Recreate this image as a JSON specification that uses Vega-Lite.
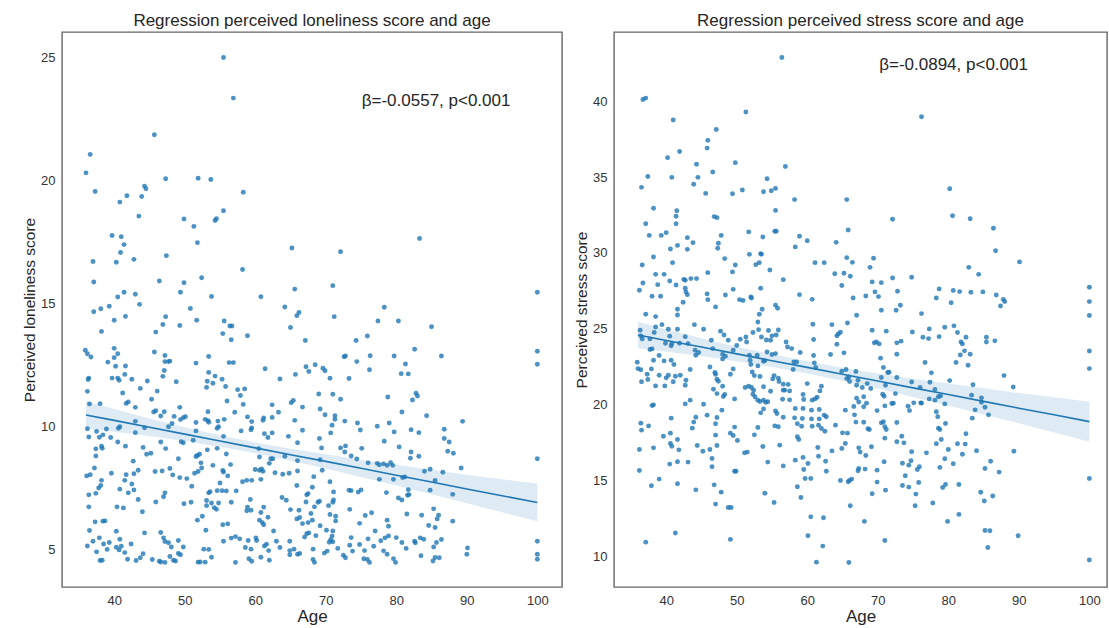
{
"$schema": "https://vega.github.io/schema/vega-lite/v6.json",
"background": "white",
"padding": {"left": 21, "top": 11, "right": 0, "bottom": 0},
"bounds": "flush",
"spacing": 52,
"config": {
  "font": "Liberation Sans",
  "view": {"stroke": "#666666", "strokeWidth": 1.4},
  "axis": {"grid": false, "ticks": false, "domain": false, "labelFontSize": 13, "labelColor": "#333333", "titleFontWeight": "normal", "titleColor": "#262626", "labelPadding": 7},
  "axisX": {"titleFontSize": 17, "titlePadding": 1},
  "axisY": {"titleFontSize": 15.5, "titlePadding": 3},
  "title": {"fontSize": 17, "fontWeight": "normal", "color": "#262626", "offset": 2, "anchor": "middle"}
},
"datasets": {
"lon": [
{"age":55.5,"score":25.0},{"age":56.9,"score":23.35},{"age":45.7,"score":21.86},{"age":36.6,"score":21.06},{"age":36.0,"score":20.31},{"age":37.3,"score":19.55},{"age":44.3,"score":19.77},{"age":44.5,"score":19.66},{"age":41.8,"score":19.38},{"age":40.8,"score":19.12},{"age":43.9,"score":19.35},{"age":47.3,"score":20.07},{"age":51.9,"score":20.09},{"age":53.7,"score":20.04},{"age":58.3,"score":19.52},{"age":43.5,"score":18.55},{"age":49.9,"score":18.43},{"age":51.3,"score":18.13},{"age":54.3,"score":18.37},{"age":54.5,"score":18.44},{"age":55.5,"score":18.77},{"age":39.7,"score":17.76},{"age":41.0,"score":17.71},{"age":41.4,"score":17.39},{"age":40.9,"score":17.07},{"age":37.0,"score":16.70},{"age":40.3,"score":16.67},{"age":42.8,"score":16.79},{"age":47.4,"score":16.94},{"age":51.8,"score":17.47},{"age":65.2,"score":17.25},{"age":37.1,"score":15.87},{"age":46.4,"score":15.91},{"age":49.9,"score":15.84},{"age":52.4,"score":16.04},{"age":58.2,"score":16.38},{"age":41.4,"score":15.45},{"age":43.0,"score":15.37},{"age":40.5,"score":15.26},{"age":49.4,"score":15.45},{"age":53.8,"score":15.28},{"age":60.8,"score":15.27},{"age":65.6,"score":15.58},
{"age":83.3,"score":17.64},{"age":72.1,"score":17.10},{"age":71.0,"score":15.72},{"age":100,"score":15.45},
{"age":37.1,"score":14.66},{"age":38.1,"score":14.78},{"age":39.3,"score":14.88},{"age":43.6,"score":14.96},{"age":40.0,"score":14.31},{"age":41.6,"score":14.47},{"age":38.2,"score":13.86},{"age":47.3,"score":14.46},{"age":46.9,"score":14.14},{"age":45.9,"score":13.83},{"age":50.8,"score":14.79},{"age":51.7,"score":14.31},{"age":49.3,"score":14.10},{"age":55.6,"score":14.28},{"age":56.4,"score":14.08},{"age":56.7,"score":14.08},{"age":55.4,"score":13.77},{"age":56.6,"score":13.52},{"age":58.9,"score":13.68},{"age":64.2,"score":14.85},{"age":66.2,"score":14.63},{"age":65.9,"score":14.50},{"age":65.0,"score":14.02},{"age":67.1,"score":13.49},
{"age":35.9,"score":13.09},{"age":36.2,"score":12.95},{"age":36.7,"score":12.82},{"age":40.0,"score":13.17},{"age":40.5,"score":12.95},{"age":40.0,"score":12.79},{"age":39.1,"score":12.61},{"age":40.2,"score":12.44},{"age":41.6,"score":12.45},{"age":41.5,"score":12.11},{"age":39.7,"score":11.96},{"age":40.5,"score":11.96},{"age":40.7,"score":11.87},{"age":42.5,"score":11.91},{"age":41.2,"score":11.35},{"age":45.7,"score":13.02},{"age":47.2,"score":12.88},{"age":47.2,"score":12.63},{"age":47.7,"score":12.63},{"age":47.9,"score":12.65},{"age":47.1,"score":12.27},{"age":46.9,"score":12.03},{"age":44.7,"score":11.84},{"age":43.7,"score":11.54},{"age":46.1,"score":11.43},{"age":48.8,"score":11.81},{"age":51.6,"score":12.57},{"age":53.4,"score":12.84},{"age":53.4,"score":12.19},{"age":53.2,"score":11.83},{"age":53.1,"score":11.58},{"age":54.3,"score":12.04},{"age":54.0,"score":11.75},{"age":55.3,"score":11.91},{"age":55.8,"score":11.62},{"age":56.3,"score":12.59},{"age":56.9,"score":12.59},{"age":57.5,"score":11.49},{"age":58.5,"score":11.52},{"age":57.9,"score":11.25},{"age":61.4,"score":12.34},{"age":63.5,"score":11.92},{"age":65.7,"score":12.11},{"age":67.2,"score":12.42},{"age":67.6,"score":12.23},
{"age":36.3,"score":11.90},{"age":36.4,"score":11.96},{"age":36.2,"score":11.42},{"age":36.5,"score":10.91},{"age":38.0,"score":10.92},{"age":41.7,"score":10.93},{"age":42.0,"score":10.99},{"age":43.0,"score":10.77},{"age":45.3,"score":11.10},{"age":45.6,"score":10.58},{"age":45.9,"score":10.63},{"age":46.6,"score":10.42},{"age":47.1,"score":10.59},{"age":49.3,"score":10.77},{"age":48.5,"score":10.40},{"age":49.4,"score":10.27},{"age":49.8,"score":10.35},{"age":50.1,"score":10.39},{"age":51.6,"score":10.15},{"age":53.3,"score":10.59},{"age":52.9,"score":10.28},{"age":53.3,"score":10.23},{"age":53.4,"score":10.16},{"age":54.7,"score":10.21},{"age":56.0,"score":11.03},{"age":55.6,"score":10.28},{"age":57.1,"score":10.57},{"age":58.3,"score":10.89},{"age":58.9,"score":10.38},{"age":59.5,"score":10.19},{"age":61.2,"score":10.34},{"age":61.1,"score":10.24},{"age":62.4,"score":10.36},{"age":62.4,"score":10.87},{"age":63.3,"score":10.57},{"age":65.1,"score":10.96},{"age":65.4,"score":11.05},{"age":66.7,"score":10.78},{"age":65.6,"score":10.24},
{"age":36.2,"score":9.90},{"age":36.4,"score":9.56},{"age":37.5,"score":9.79},{"age":37.9,"score":9.55},{"age":38.4,"score":9.65},{"age":38.9,"score":9.89},{"age":39.5,"score":9.54},{"age":40.6,"score":9.92},{"age":40.8,"score":9.98},{"age":40.5,"score":9.36},{"age":41.6,"score":9.19},{"age":43.0,"score":10.20},{"age":43.0,"score":9.74},{"age":44.3,"score":9.94},{"age":44.1,"score":9.14},{"age":44.6,"score":8.86},{"age":45.2,"score":8.90},{"age":46.6,"score":9.36},{"age":47.3,"score":9.09},{"age":47.7,"score":9.98},{"age":48.2,"score":10.11},{"age":49.5,"score":9.37},{"age":49.8,"score":9.33},{"age":51.6,"score":9.81},{"age":51.2,"score":9.43},{"age":51.8,"score":8.81},{"age":52.1,"score":8.86},{"age":53.2,"score":9.04},{"age":54.6,"score":9.92},{"age":54.8,"score":9.98},{"age":55.5,"score":9.59},{"age":54.6,"score":9.10},{"age":55.9,"score":8.87},{"age":58.0,"score":9.81},{"age":59.5,"score":9.93},{"age":59.4,"score":9.86},{"age":60.5,"score":9.09},{"age":60.6,"score":8.75},{"age":61.3,"score":9.70},{"age":61.8,"score":9.54},{"age":62.4,"score":9.73},{"age":64.7,"score":9.59},{"age":66.0,"score":9.33},{"age":66.7,"score":9.84},{"age":62.5,"score":8.68},{"age":64.2,"score":8.78},{"age":66.0,"score":8.60},
{"age":36.1,"score":7.98},{"age":36.6,"score":8.03},{"age":37.2,"score":8.30},{"age":37.4,"score":9.08},{"age":37.4,"score":8.79},{"age":38.2,"score":9.19},{"age":38.3,"score":9.10},{"age":39.6,"score":8.09},{"age":38.2,"score":7.80},{"age":38.1,"score":7.59},{"age":37.8,"score":7.49},{"age":37.4,"score":7.27},{"age":36.4,"score":7.21},{"age":41.7,"score":8.03},{"age":41.5,"score":7.80},{"age":42.7,"score":8.58},{"age":43.4,"score":8.21},{"age":42.8,"score":8.07},{"age":42.5,"score":7.65},{"age":42.8,"score":7.41},{"age":40.8,"score":7.44},{"age":42.0,"score":7.29},{"age":43.4,"score":7.02},{"age":45.8,"score":8.16},{"age":46.8,"score":8.18},{"age":47.9,"score":8.28},{"age":48.3,"score":8.02},{"age":47.2,"score":7.29},{"age":47.0,"score":7.13},{"age":49.1,"score":8.68},{"age":49.3,"score":7.91},{"age":50.3,"score":7.87},{"age":51.4,"score":8.09},{"age":51.9,"score":8.16},{"age":52.4,"score":8.30},{"age":52.3,"score":8.51},{"age":51.6,"score":8.77},{"age":51.0,"score":7.56},{"age":54.0,"score":8.41},{"age":55.4,"score":8.20},{"age":55.5,"score":8.14},{"age":54.6,"score":7.38},{"age":55.3,"score":7.38},{"age":55.9,"score":7.37},{"age":53.6,"score":7.34},{"age":53.4,"score":7.29},{"age":55.0,"score":7.69},{"age":56.1,"score":7.98},{"age":56.5,"score":8.44},{"age":57.3,"score":7.37},{"age":58.2,"score":7.74},{"age":58.8,"score":7.80},{"age":59.5,"score":7.80},{"age":60.0,"score":8.24},{"age":60.6,"score":8.21},{"age":60.9,"score":8.26},{"age":61.1,"score":8.17},{"age":62.2,"score":8.68},{"age":62.0,"score":8.49},{"age":62.8,"score":8.11},{"age":60.8,"score":7.84},{"age":63.9,"score":8.05},{"age":64.8,"score":8.09},{"age":66.0,"score":8.18},{"age":65.9,"score":7.59},{"age":67.3,"score":7.21},{"age":67.5,"score":7.26},{"age":63.8,"score":7.10},{"age":64.4,"score":6.99},
{"age":36.4,"score":6.72},{"age":37.3,"score":6.11},{"age":38.4,"score":6.14},{"age":38.7,"score":6.15},{"age":40.4,"score":6.72},{"age":41.3,"score":6.68},{"age":44.0,"score":6.52},{"age":45.9,"score":6.92},{"age":49.9,"score":6.85},{"age":50.9,"score":6.91},{"age":53.1,"score":6.98},{"age":53.1,"score":6.77},{"age":53.8,"score":6.88},{"age":54.2,"score":6.69},{"age":54.5,"score":6.62},{"age":54.8,"score":6.88},{"age":56.6,"score":6.91},{"age":58.9,"score":6.71},{"age":59.3,"score":7.02},{"age":59.4,"score":6.58},{"age":58.8,"score":6.56},{"age":60.8,"score":6.49},{"age":61.2,"score":6.71},{"age":61.8,"score":6.30},{"age":60.6,"score":6.18},{"age":61.0,"score":6.08},{"age":61.2,"score":5.99},{"age":62.6,"score":5.74},{"age":65.0,"score":6.61},{"age":66.2,"score":6.58},{"age":67.2,"score":6.92},{"age":66.3,"score":6.29},{"age":65.9,"score":6.23},{"age":66.7,"score":6.04},{"age":67.9,"score":6.45},{"age":67.5,"score":6.08},{"age":67.6,"score":5.66},{"age":67.3,"score":5.63},{"age":52.5,"score":6.34},{"age":51.8,"score":6.18},{"age":53.0,"score":5.77},{"age":55.4,"score":5.99},{"age":56.1,"score":6.03},{"age":40.3,"score":5.73},{"age":36.5,"score":5.76},
{"age":36.2,"score":5.13},{"age":37.0,"score":5.32},{"age":37.9,"score":5.46},{"age":38.5,"score":5.21},{"age":39.3,"score":5.27},{"age":40.3,"score":5.08},{"age":40.8,"score":5.40},{"age":40.7,"score":4.97},{"age":41.0,"score":5.12},{"age":42.4,"score":5.21},{"age":41.5,"score":4.86},{"age":39.0,"score":4.99},{"age":37.5,"score":4.89},{"age":38.0,"score":4.54},{"age":38.3,"score":4.55},{"age":41.9,"score":4.59},{"age":43.1,"score":4.54},{"age":44.1,"score":4.81},{"age":43.7,"score":4.65},{"age":44.3,"score":5.66},{"age":45.4,"score":4.58},{"age":46.6,"score":5.68},{"age":47.0,"score":5.46},{"age":47.2,"score":5.31},{"age":47.7,"score":5.26},{"age":48.1,"score":5.09},{"age":49.1,"score":5.35},{"age":49.8,"score":5.09},{"age":47.9,"score":4.70},{"age":48.4,"score":4.55},{"age":49.1,"score":4.82},{"age":49.4,"score":4.77},{"age":46.4,"score":4.51},{"age":46.6,"score":4.48},{"age":47.2,"score":4.46},{"age":48.7,"score":4.52},{"age":52.7,"score":5.00},{"age":53.4,"score":4.99},{"age":53.8,"score":4.67},{"age":51.9,"score":4.47},{"age":52.2,"score":4.48},{"age":52.9,"score":4.47},{"age":55.5,"score":5.32},{"age":56.6,"score":5.45},{"age":57.2,"score":5.51},{"age":57.8,"score":5.42},{"age":58.6,"score":5.07},{"age":59.0,"score":5.35},{"age":59.4,"score":5.00},{"age":60.1,"score":5.46},{"age":60.2,"score":5.35},{"age":59.1,"score":4.61},{"age":59.5,"score":4.51},{"age":60.8,"score":4.67},{"age":61.3,"score":5.13},{"age":61.6,"score":5.20},{"age":61.9,"score":4.94},{"age":62.0,"score":4.55},{"age":63.5,"score":5.07},{"age":63.0,"score":5.32},{"age":64.9,"score":5.32},{"age":64.9,"score":4.94},{"age":64.9,"score":4.77},{"age":65.5,"score":5.00},{"age":66.0,"score":4.79},{"age":66.3,"score":4.82},{"age":67.0,"score":5.49},{"age":57.2,"score":4.46},
{"age":78.3,"score":14.84},{"age":71.2,"score":14.46},{"age":77.4,"score":14.28},{"age":80.3,"score":14.28},{"age":85.0,"score":14.05},{"age":74.3,"score":13.49},{"age":75.9,"score":13.67},{"age":82.6,"score":13.13},{"age":72.6,"score":12.83},{"age":72.8,"score":12.86},{"age":74.4,"score":12.63},{"age":76.3,"score":12.87},{"age":76.2,"score":12.30},{"age":79.7,"score":12.86},{"age":86.4,"score":12.86},{"age":68.5,"score":12.50},{"age":69.6,"score":12.36},{"age":69.9,"score":12.26},{"age":70.6,"score":11.95},{"age":73.3,"score":11.94},{"age":81.3,"score":12.53},{"age":80.7,"score":12.14},{"age":81.7,"score":12.13},{"age":100,"score":13.05},{"age":100,"score":12.52},{"age":69.0,"score":11.31},{"age":71.0,"score":11.30},{"age":72.1,"score":11.10},{"age":78.8,"score":11.19},{"age":82.8,"score":11.34},{"age":83.0,"score":11.23},{"age":82.3,"score":11.07},{"age":69.2,"score":10.70},{"age":69.9,"score":10.47},{"age":71.3,"score":10.43},{"age":71.3,"score":10.28},{"age":70.9,"score":10.04},{"age":70.7,"score":9.73},{"age":72.7,"score":10.21},{"age":74.5,"score":10.13},{"age":74.9,"score":9.85},{"age":77.3,"score":10.00},{"age":79.0,"score":10.13},{"age":79.7,"score":9.77},{"age":80.8,"score":10.58},{"age":82.1,"score":9.86},{"age":83.2,"score":9.74},{"age":84.3,"score":10.43},{"age":86.8,"score":9.88},{"age":86.8,"score":9.50},{"age":87.5,"score":9.36},{"age":87.3,"score":8.98},{"age":88.1,"score":8.90},{"age":89.4,"score":10.20},{"age":69.1,"score":9.50},{"age":69.4,"score":9.12},{"age":72.1,"score":9.12},{"age":72.8,"score":9.20},{"age":72.7,"score":8.95},{"age":73.6,"score":8.79},{"age":75.1,"score":9.10},{"age":74.4,"score":8.67},{"age":76.0,"score":8.51},{"age":77.3,"score":8.49},{"age":77.6,"score":8.43},{"age":78.2,"score":8.47},{"age":78.7,"score":8.41},{"age":79.2,"score":8.52},{"age":79.5,"score":8.41},{"age":78.3,"score":9.39},{"age":80.4,"score":9.16},{"age":82.1,"score":8.95},{"age":82.0,"score":8.70},{"age":83.2,"score":8.78},{"age":69.2,"score":8.64},{"age":69.5,"score":8.21},{"age":68.3,"score":7.95},{"age":68.1,"score":7.52},{"age":70.6,"score":7.74},{"age":71.1,"score":7.33},{"age":73.3,"score":7.40},{"age":73.6,"score":7.38},{"age":74.6,"score":7.32},{"age":75.0,"score":7.41},{"age":77.6,"score":7.84},{"age":78.6,"score":7.30},{"age":79.6,"score":7.84},{"age":80.9,"score":7.91},{"age":81.2,"score":7.94},{"age":81.7,"score":7.42},{"age":81.6,"score":7.19},{"age":81.8,"score":7.22},{"age":80.3,"score":7.08},{"age":80.8,"score":7.00},{"age":84.0,"score":8.17},{"age":84.8,"score":8.25},{"age":85.5,"score":7.79},{"age":86.6,"score":8.13},{"age":89.2,"score":8.30},{"age":84.8,"score":7.40},{"age":88.0,"score":7.23},{"age":100,"score":8.68},
{"age":68.9,"score":6.91},{"age":69.1,"score":6.95},{"age":68.4,"score":6.72},{"age":71.1,"score":7.00},{"age":71.0,"score":6.91},{"age":70.4,"score":6.77},{"age":68.1,"score":6.18},{"age":71.4,"score":6.34},{"age":71.4,"score":6.15},{"age":70.6,"score":6.41},{"age":73.4,"score":6.62},{"age":75.6,"score":6.37},{"age":76.5,"score":6.48},{"age":74.8,"score":6.05},{"age":78.7,"score":6.18},{"age":78.9,"score":5.93},{"age":81.5,"score":6.43},{"age":83.6,"score":6.38},{"age":85.3,"score":6.64},{"age":86.0,"score":6.38},{"age":85.8,"score":6.23},{"age":84.6,"score":5.96},{"age":85.5,"score":5.88},{"age":88.0,"score":6.14},{"age":69.2,"score":5.95},{"age":68.6,"score":5.55},{"age":70.1,"score":5.77},{"age":71.0,"score":5.74},{"age":70.9,"score":5.53},{"age":70.7,"score":5.38},{"age":71.0,"score":5.30},{"age":70.5,"score":5.28},{"age":71.7,"score":5.03},{"age":69.8,"score":4.84},{"age":70.2,"score":4.92},{"age":68.2,"score":5.00},{"age":68.2,"score":4.58},{"age":68.4,"score":4.46},{"age":72.5,"score":4.75},{"age":72.8,"score":4.65},{"age":73.6,"score":5.47},{"age":73.4,"score":5.16},{"age":73.8,"score":4.92},{"age":74.8,"score":5.19},{"age":75.5,"score":4.94},{"age":76.0,"score":5.42},{"age":76.8,"score":5.12},{"age":77.0,"score":5.74},{"age":77.8,"score":5.34},{"age":78.4,"score":5.46},{"age":78.9,"score":5.54},{"age":78.2,"score":4.93},{"age":78.7,"score":4.79},{"age":80.0,"score":5.47},{"age":80.8,"score":5.27},{"age":81.4,"score":5.03},{"age":82.6,"score":5.32},{"age":82.7,"score":5.26},{"age":83.4,"score":5.46},{"age":83.9,"score":5.40},{"age":75.4,"score":4.61},{"age":75.9,"score":4.58},{"age":76.2,"score":4.46},{"age":79.6,"score":4.61},{"age":79.9,"score":4.46},{"age":83.5,"score":4.73},{"age":85.2,"score":4.52},{"age":85.5,"score":4.66},{"age":86.1,"score":4.65},{"age":85.3,"score":5.09},{"age":85.7,"score":5.27},{"age":86.4,"score":5.39},{"age":90.1,"score":5.05},{"age":90.0,"score":4.79},{"age":100,"score":5.32},{"age":100,"score":4.79},{"age":100,"score":4.59}
],
"lonBand": [
{"age":36,"lo":9.90,"hi":11.02,"fit":10.46},{"age":40,"lo":9.78,"hi":10.70,"fit":10.24},{"age":45,"lo":9.60,"hi":10.32,"fit":9.96},{"age":50,"lo":9.40,"hi":9.96,"fit":9.68},{"age":55,"lo":9.17,"hi":9.63,"fit":9.40},{"age":60,"lo":8.90,"hi":9.34,"fit":9.12},{"age":65,"lo":8.60,"hi":9.08,"fit":8.84},{"age":70,"lo":8.28,"hi":8.86,"fit":8.57},{"age":75,"lo":7.94,"hi":8.64,"fit":8.29},{"age":80,"lo":7.59,"hi":8.43,"fit":8.01},{"age":85,"lo":7.23,"hi":8.23,"fit":7.73},{"age":90,"lo":6.87,"hi":8.03,"fit":7.45},{"age":95,"lo":6.50,"hi":7.84,"fit":7.17},{"age":100,"lo":6.13,"hi":7.67,"fit":6.90}
],
"str": [
{"age":56.4,"score":42.90},{"age":36.7,"score":40.13},{"age":37.1,"score":40.22},{"age":41.0,"score":38.77},{"age":51.3,"score":39.30},{"age":47.1,"score":38.15},{"age":45.9,"score":37.43},{"age":45.8,"score":36.92},{"age":41.9,"score":36.70},{"age":40.2,"score":36.29},{"age":49.8,"score":35.96},{"age":44.3,"score":35.85},{"age":56.9,"score":35.71},{"age":37.4,"score":35.05},{"age":40.8,"score":34.99},{"age":44.5,"score":34.99},{"age":46.6,"score":35.34},{"age":43.9,"score":34.53},{"age":36.5,"score":34.33},{"age":54.3,"score":34.90},{"age":50.8,"score":34.15},{"age":49.4,"score":33.91},{"age":45.6,"score":33.93},{"age":53.8,"score":34.04},{"age":54.9,"score":34.11},{"age":55.5,"score":34.26},{"age":58.2,"score":33.52},{"age":65.6,"score":33.52},{"age":38.2,"score":32.95},{"age":41.5,"score":32.79},{"age":41.4,"score":32.42},{"age":41.4,"score":31.93},{"age":37.1,"score":31.93},{"age":46.8,"score":32.40},{"age":47.2,"score":32.33},{"age":55.5,"score":32.81},{"age":55.4,"score":31.43},{"age":55.6,"score":31.43},{"age":37.6,"score":31.16},{"age":39.3,"score":31.16},{"age":40.0,"score":31.34},{"age":43.0,"score":31.01},{"age":43.8,"score":30.68},{"age":47.8,"score":31.16},{"age":47.4,"score":30.64},{"age":47.3,"score":30.31},{"age":41.6,"score":30.50},{"age":40.6,"score":30.26},{"age":43.0,"score":30.24},{"age":51.7,"score":31.39},{"age":53.7,"score":31.05},{"age":58.9,"score":31.10},{"age":60.0,"score":30.81},{"age":58.3,"score":30.40},{"age":64.1,"score":30.70},{"age":65.8,"score":31.52},{"age":38.2,"score":29.73},{"age":36.6,"score":29.21},{"age":40.9,"score":29.36},{"age":48.3,"score":29.63},{"age":51.8,"score":29.91},{"age":53.4,"score":29.96},{"age":53.5,"score":29.91},{"age":52.7,"score":29.23},{"age":53.2,"score":29.36},{"age":49.8,"score":29.21},{"age":54.7,"score":28.88},{"age":61.1,"score":29.36},{"age":62.4,"score":29.36},{"age":65.6,"score":29.69},{"age":66.4,"score":29.38},{"age":38.5,"score":28.59},{"age":39.7,"score":28.59},{"age":36.7,"score":28.02},{"age":38.8,"score":27.91},{"age":40.5,"score":28.15},{"age":42.5,"score":28.26},{"age":42.7,"score":28.20},{"age":43.5,"score":28.31},{"age":44.3,"score":28.31},{"age":45.9,"score":28.70},{"age":49.4,"score":28.75},{"age":56.6,"score":28.24},{"age":41.4,"score":27.89},{"age":42.7,"score":27.67},{"age":42.8,"score":27.43},{"age":43.0,"score":27.25},{"age":36.2,"score":27.54},{"age":38.0,"score":27.14},{"age":39.2,"score":27.14},{"age":45.8,"score":27.30},{"age":45.9,"score":26.92},{"age":48.4,"score":27.23},{"age":49.5,"score":27.60},{"age":50.4,"score":26.92},{"age":50.9,"score":26.86},{"age":52.0,"score":27.10},{"age":52.1,"score":27.03},{"age":53.4,"score":27.67},{"age":58.9,"score":27.25},{"age":60.7,"score":26.94},{"age":63.9,"score":28.63},{"age":65.2,"score":28.66},{"age":66.1,"score":28.46},{"age":64.9,"score":27.85},{"age":66.5,"score":27.03},{"age":42.4,"score":26.75},{"age":41.6,"score":26.29},{"age":47.0,"score":26.44},{"age":53.6,"score":26.29},{"age":55.5,"score":26.55},{"age":55.8,"score":26.35},
{"age":76.2,"score":38.99},{"age":80.2,"score":34.24},{"age":72.1,"score":32.22},{"age":80.6,"score":32.46},{"age":83.1,"score":32.26},{"age":86.4,"score":31.63},{"age":86.7,"score":30.15},{"age":90.1,"score":29.41},{"age":69.4,"score":29.65},{"age":68.9,"score":29.05},{"age":82.9,"score":29.05},{"age":84.3,"score":28.59},{"age":69.2,"score":28.09},{"age":70.5,"score":28.04},{"age":72.1,"score":28.35},{"age":74.8,"score":28.40},{"age":68.3,"score":27.16},{"age":69.6,"score":27.43},{"age":70.1,"score":27.12},{"age":72.8,"score":27.47},{"age":78.7,"score":27.63},{"age":78.3,"score":27.03},{"age":80.7,"score":27.52},{"age":81.6,"score":27.45},{"age":83.2,"score":27.41},{"age":84.9,"score":27.43},{"age":86.8,"score":27.23},{"age":87.8,"score":26.94},{"age":88.0,"score":26.79},{"age":87.4,"score":26.50},{"age":80.4,"score":26.72},{"age":73.2,"score":26.55},{"age":70.5,"score":26.22},{"age":72.6,"score":26.22},{"age":100,"score":27.74},{"age":100,"score":26.79},
{"age":41.6,"score":25.91},{"age":53.2,"score":25.96},{"age":37.1,"score":25.96},{"age":38.5,"score":25.80},{"age":44.0,"score":25.27},{"age":45.3,"score":24.97},{"age":39.4,"score":25.27},{"age":38.5,"score":25.12},{"age":40.3,"score":24.97},{"age":41.6,"score":24.97},{"age":38.3,"score":24.75},{"age":36.3,"score":24.90},{"age":36.4,"score":24.53},{"age":36.6,"score":24.33},{"age":37.7,"score":24.33},{"age":37.7,"score":23.63},{"age":38.0,"score":23.67},{"age":40.5,"score":24.51},{"age":39.9,"score":24.04},{"age":40.8,"score":24.02},{"age":40.7,"score":23.87},{"age":41.9,"score":24.04},{"age":43.1,"score":24.02},{"age":42.7,"score":24.48},{"age":44.1,"score":23.58},{"age":44.2,"score":23.25},{"age":44.6,"score":23.43},{"age":46.4,"score":24.24},{"age":46.6,"score":23.69},{"age":47.7,"score":24.84},{"age":48.2,"score":24.59},{"age":48.8,"score":24.24},{"age":48.0,"score":23.32},{"age":48.4,"score":23.19},{"age":48.0,"score":23.01},{"age":49.5,"score":23.58},{"age":50.0,"score":23.89},{"age":50.5,"score":24.31},{"age":51.4,"score":24.13},{"age":51.3,"score":24.46},{"age":52.3,"score":24.75},{"age":53.1,"score":24.94},{"age":53.0,"score":25.45},{"age":53.5,"score":24.46},{"age":54.2,"score":24.26},{"age":54.8,"score":24.24},{"age":54.5,"score":24.88},{"age":55.0,"score":24.53},{"age":55.9,"score":24.92},{"age":55.6,"score":24.59},{"age":51.8,"score":23.25},{"age":51.9,"score":22.92},{"age":52.0,"score":22.64},{"age":52.9,"score":23.25},{"age":53.0,"score":22.55},{"age":54.3,"score":23.47},{"age":55.0,"score":23.30},{"age":55.5,"score":23.36},{"age":54.0,"score":22.90},{"age":53.8,"score":22.86},{"age":57.0,"score":24.13},{"age":57.2,"score":23.80},{"age":57.8,"score":23.69},{"age":59.0,"score":23.43},{"age":58.1,"score":22.81},{"age":58.5,"score":22.81},{"age":60.8,"score":25.30},{"age":60.9,"score":24.29},{"age":60.9,"score":23.23},{"age":61.0,"score":22.75},{"age":61.2,"score":22.44},{"age":63.5,"score":25.27},{"age":63.3,"score":23.30},{"age":64.2,"score":24.53},{"age":64.4,"score":24.66},{"age":64.7,"score":24.77},{"age":65.7,"score":25.38},{"age":67.0,"score":25.89},{"age":64.2,"score":23.98},{"age":65.2,"score":23.41},{"age":65.5,"score":22.31},{"age":64.9,"score":22.20},{"age":65.9,"score":21.82},{"age":66.0,"score":21.52},{"age":65.6,"score":21.71},{"age":66.9,"score":22.18},{"age":67.2,"score":21.60},{"age":67.0,"score":20.42},
{"age":35.9,"score":22.79},{"age":36.0,"score":22.37},{"age":36.4,"score":22.29},{"age":36.5,"score":21.50},{"age":37.3,"score":22.00},{"age":37.4,"score":21.65},{"age":37.9,"score":22.35},{"age":38.5,"score":21.23},{"age":38.2,"score":22.92},{"age":39.0,"score":23.23},{"age":39.7,"score":22.88},{"age":40.7,"score":22.92},{"age":41.1,"score":22.64},{"age":39.0,"score":21.93},{"age":39.8,"score":21.23},{"age":40.0,"score":21.76},{"age":40.3,"score":21.93},{"age":41.0,"score":21.50},{"age":41.3,"score":21.87},{"age":42.0,"score":21.93},{"age":42.8,"score":21.60},{"age":42.7,"score":21.27},{"age":43.4,"score":22.31},
{"age":46.2,"score":22.48},{"age":46.9,"score":22.11},{"age":47.0,"score":22.00},{"age":47.2,"score":21.67},{"age":47.4,"score":21.54},{"age":46.7,"score":21.01},{"age":47.2,"score":20.72},{"age":48.0,"score":21.21},{"age":48.3,"score":20.66},{"age":48.1,"score":20.53},{"age":49.1,"score":22.00},{"age":49.5,"score":22.35},
{"age":51.2,"score":21.12},{"age":51.7,"score":21.21},{"age":52.1,"score":21.12},{"age":52.4,"score":20.94},{"age":52.3,"score":20.68},{"age":52.6,"score":20.50},{"age":53.0,"score":20.29},{"age":53.3,"score":20.20},{"age":53.8,"score":20.29},{"age":54.1,"score":20.15},{"age":54.4,"score":20.18},{"age":53.8,"score":19.71},{"age":53.4,"score":19.45},
{"age":52.2,"score":22.15},{"age":52.5,"score":21.91},{"age":53.3,"score":21.85},{"age":53.8,"score":21.17},{"age":54.8,"score":20.88},{"age":55.1,"score":21.69},{"age":55.3,"score":21.91},{"age":55.9,"score":21.74},{"age":56.0,"score":21.52},{"age":56.6,"score":21.34},{"age":56.6,"score":20.95},{"age":56.8,"score":20.95},{"age":57.3,"score":21.32},{"age":57.5,"score":20.90},{"age":57.5,"score":20.31},{"age":56.5,"score":20.35},
{"age":58.0,"score":22.31},{"age":60.0,"score":21.38},{"age":59.4,"score":20.66},{"age":59.5,"score":20.33},{"age":60.7,"score":20.29},{"age":61.1,"score":20.37},{"age":61.4,"score":20.48},{"age":61.8,"score":20.90},{"age":62.0,"score":21.21},
{"age":38.0,"score":19.93},{"age":38.2,"score":19.98},{"age":42.7,"score":20.04},{"age":43.4,"score":20.29},{"age":45.3,"score":20.02},{"age":47.9,"score":19.63},{"age":45.8,"score":19.30},{"age":47.2,"score":19.14},{"age":49.7,"score":20.37},{"age":55.5,"score":19.58},{"age":55.7,"score":19.41},{"age":56.6,"score":19.16},{"age":58.3,"score":19.74},{"age":59.4,"score":19.74},{"age":59.3,"score":19.08},{"age":58.2,"score":19.12},{"age":58.6,"score":18.73},{"age":59.2,"score":18.57},
{"age":60.6,"score":19.63},{"age":61.7,"score":19.67},{"age":60.6,"score":19.05},{"age":61.7,"score":19.05},{"age":60.7,"score":18.57},{"age":61.6,"score":18.64},{"age":62.4,"score":19.30},{"age":62.7,"score":19.19},{"age":62.0,"score":18.42},{"age":62.5,"score":18.24},
{"age":64.0,"score":18.64},{"age":65.4,"score":19.63},{"age":66.6,"score":19.87},{"age":66.7,"score":19.32},{"age":66.9,"score":18.84},
{"age":36.4,"score":18.77},{"age":36.5,"score":18.31},{"age":37.5,"score":18.59},{"age":40.7,"score":19.10},{"age":40.6,"score":18.11},{"age":40.6,"score":17.43},{"age":40.8,"score":17.25},{"age":39.6,"score":17.91},{"age":41.6,"score":17.69},{"age":41.8,"score":17.01},{"age":38.2,"score":17.14},{"age":36.2,"score":17.03},
{"age":43.7,"score":18.44},{"age":43.9,"score":18.84},{"age":44.2,"score":19.16},{"age":44.4,"score":17.30},{"age":45.2,"score":16.92},{"age":46.2,"score":17.03},{"age":47.2,"score":17.30},{"age":47.0,"score":17.98},{"age":47.0,"score":18.73},{"age":46.5,"score":16.44},{"age":46.5,"score":15.89},
{"age":49.1,"score":18.11},{"age":49.5,"score":17.96},{"age":50.1,"score":17.63},{"age":49.7,"score":18.51},
{"age":51.1,"score":16.81},{"age":51.5,"score":16.86},{"age":53.0,"score":18.48},{"age":52.5,"score":18.00},{"age":53.7,"score":17.23},{"age":54.4,"score":16.20},{"age":55.4,"score":18.59},{"age":55.9,"score":18.53},{"age":56.1,"score":17.32},{"age":56.6,"score":15.95},
{"age":58.6,"score":17.87},{"age":58.8,"score":17.69},{"age":58.3,"score":16.33},{"age":59.4,"score":16.51},{"age":59.5,"score":15.71},{"age":60.1,"score":16.11},{"age":59.7,"score":15.12},{"age":60.5,"score":15.12},{"age":61.5,"score":17.16},{"age":61.6,"score":16.59},{"age":62.6,"score":16.26},{"age":62.7,"score":15.60},{"age":63.5,"score":16.94},{"age":64.9,"score":17.10},{"age":65.0,"score":18.13},{"age":65.4,"score":17.43},{"age":65.7,"score":18.11},
{"age":64.7,"score":14.99},{"age":65.8,"score":14.90},{"age":66.0,"score":14.99},{"age":66.3,"score":15.08},
{"age":36.2,"score":15.65},{"age":40.5,"score":16.07},{"age":41.6,"score":16.22},{"age":43.1,"score":16.20},{"age":39.0,"score":15.08},{"age":37.9,"score":14.64},{"age":41.6,"score":14.77},{"age":44.2,"score":14.37},{"age":46.8,"score":14.70},{"age":47.8,"score":14.22},{"age":49.7,"score":15.60},{"age":49.9,"score":15.60},{"age":47.0,"score":13.43},{"age":48.8,"score":13.21},{"age":49.2,"score":13.21},{"age":54.0,"score":14.15},{"age":55.3,"score":13.54},{"age":58.6,"score":14.57},{"age":59.1,"score":13.87},{"age":60.5,"score":12.59},{"age":62.3,"score":12.53},{"age":60.1,"score":11.34},{"age":62.2,"score":10.66},{"age":61.3,"score":9.60},{"age":65.9,"score":9.58},{"age":66.1,"score":13.32},{"age":37.1,"score":10.92},{"age":41.3,"score":11.52},{"age":49.1,"score":11.10},
{"age":76.2,"score":26.00},{"age":100,"score":25.87},{"age":69.2,"score":24.90},{"age":71.2,"score":24.84},{"age":69.5,"score":24.07},{"age":69.8,"score":24.13},{"age":70.2,"score":24.00},{"age":72.7,"score":24.07},{"age":73.3,"score":24.18},{"age":72.7,"score":23.32},{"age":74.9,"score":24.79},{"age":76.4,"score":24.44},{"age":77.2,"score":24.35},{"age":78.7,"score":24.48},{"age":77.3,"score":24.99},{"age":79.5,"score":25.10},{"age":80.8,"score":25.19},{"age":81.3,"score":24.75},{"age":81.8,"score":24.13},{"age":82.0,"score":24.00},{"age":82.5,"score":24.44},{"age":82.3,"score":23.54},{"age":81.7,"score":23.27},{"age":83.1,"score":23.32},{"age":82.8,"score":22.59},{"age":81.1,"score":22.77},{"age":85.4,"score":24.44},{"age":85.4,"score":24.13},{"age":86.6,"score":24.20},
{"age":70.4,"score":23.06},{"age":70.8,"score":22.44},{"age":71.4,"score":22.11},{"age":71.6,"score":22.13},{"age":72.7,"score":21.78},{"age":70.5,"score":21.78},{"age":68.5,"score":21.38},{"age":69.0,"score":21.06},{"age":67.8,"score":21.12},{"age":67.0,"score":21.27},{"age":71.1,"score":21.27},{"age":70.7,"score":20.68},{"age":70.9,"score":20.55},{"age":72.5,"score":20.72},{"age":72.0,"score":20.07},{"age":72.2,"score":20.09},{"age":71.0,"score":19.91},{"age":69.9,"score":19.60},{"age":68.0,"score":20.51},{"age":68.4,"score":20.09},{"age":68.0,"score":19.85},{"age":67.3,"score":20.17},
{"age":74.8,"score":21.49},{"age":76.0,"score":21.12},{"age":76.7,"score":22.77},{"age":77.6,"score":22.09},{"age":77.4,"score":21.47},{"age":78.1,"score":20.99},{"age":77.3,"score":20.37},{"age":78.1,"score":20.29},{"age":78.6,"score":20.51},{"age":78.9,"score":20.57},{"age":79.5,"score":20.04},{"age":80.2,"score":21.58},
{"age":74.3,"score":19.89},{"age":74.5,"score":19.60},{"age":75.1,"score":20.11},{"age":76.1,"score":20.11},{"age":76.2,"score":20.09},
{"age":83.3,"score":20.62},{"age":83.5,"score":21.30},{"age":84.7,"score":20.44},{"age":84.7,"score":20.15},{"age":85.2,"score":19.82},{"age":83.8,"score":19.65},{"age":83.4,"score":19.10},{"age":85.7,"score":19.32},{"age":87.9,"score":21.91},{"age":89.2,"score":21.16},
{"age":68.0,"score":18.83},{"age":68.6,"score":18.40},{"age":68.8,"score":18.35},{"age":69.1,"score":17.21},{"age":67.3,"score":17.14},{"age":67.5,"score":16.86},{"age":68.3,"score":16.64},
{"age":70.5,"score":18.79},{"age":70.8,"score":18.86},{"age":71.0,"score":18.53},{"age":71.2,"score":18.35},{"age":71.0,"score":17.78},{"age":72.7,"score":18.81},{"age":73.4,"score":17.91},{"age":73.7,"score":17.47},{"age":72.7,"score":17.54},
{"age":67.3,"score":15.78},{"age":68.2,"score":15.74},{"age":67.2,"score":15.63},{"age":69.9,"score":15.67},{"age":69.9,"score":14.88},{"age":70.9,"score":16.22},{"age":71.1,"score":14.35},{"age":69.2,"score":14.11},
{"age":73.5,"score":16.13},{"age":74.4,"score":16.00},{"age":74.7,"score":16.29},{"age":73.9,"score":15.30},{"age":75.6,"score":15.71},{"age":75.9,"score":15.89},{"age":75.8,"score":14.86},{"age":73.5,"score":14.66},{"age":74.4,"score":14.55},{"age":75.4,"score":14.09},{"age":75.3,"score":13.32},{"age":77.8,"score":13.50},
{"age":74.8,"score":16.88},{"age":76.9,"score":16.81},{"age":78.3,"score":17.41},{"age":78.6,"score":18.44},{"age":78.8,"score":18.35},{"age":78.5,"score":19.19},{"age":78.3,"score":19.52},{"age":79.6,"score":18.75},{"age":79.0,"score":17.69},{"age":80.0,"score":17.03},{"age":79.5,"score":16.42},{"age":78.8,"score":15.85},{"age":80.7,"score":16.09},{"age":81.3,"score":17.41},{"age":82.4,"score":17.39},{"age":82.5,"score":18.07},{"age":82.0,"score":16.72},{"age":84.0,"score":16.95},
{"age":79.2,"score":14.53},{"age":79.6,"score":14.72},{"age":81.5,"score":14.72},{"age":79.9,"score":12.29},{"age":81.5,"score":12.75},
{"age":85.2,"score":15.78},{"age":86.0,"score":16.26},{"age":87.2,"score":15.54},{"age":84.6,"score":14.21},{"age":85.1,"score":13.63},{"age":86.3,"score":13.96},{"age":89.3,"score":16.92},
{"age":68.1,"score":12.29},{"age":71.0,"score":11.03},{"age":85.2,"score":11.69},{"age":85.9,"score":11.67},{"age":85.6,"score":10.57},{"age":89.9,"score":11.34},
{"age":100,"score":15.12},{"age":100,"score":9.74},{"age":100,"score":23.53},{"age":100,"score":22.37}
],
"strBand": [
{"age":36,"lo":23.71,"hi":25.47,"fit":24.59},{"age":40,"lo":23.49,"hi":24.97,"fit":24.23},{"age":45,"lo":23.20,"hi":24.38,"fit":23.79},{"age":50,"lo":22.86,"hi":23.82,"fit":23.34},{"age":55,"lo":22.47,"hi":23.31,"fit":22.89},{"age":60,"lo":22.05,"hi":22.85,"fit":22.45},{"age":65,"lo":21.57,"hi":22.43,"fit":22.00},{"age":70,"lo":21.05,"hi":22.05,"fit":21.55},{"age":75,"lo":20.50,"hi":21.70,"fit":21.10},{"age":80,"lo":19.94,"hi":21.38,"fit":20.66},{"age":85,"lo":19.35,"hi":21.07,"fit":20.21},{"age":90,"lo":18.76,"hi":20.76,"fit":19.76},{"age":95,"lo":18.16,"hi":20.48,"fit":19.32},{"age":100,"lo":17.55,"hi":20.19,"fit":18.87}
]
},
"hconcat": [
{
 "width": 500, "height": 555,
 "title": "Regression perceived loneliness score and age",
 "layer": [
  {"data": {"name": "lon"}, "mark": {"type": "circle", "color": "#1f77b4", "opacity": 0.8, "size": 24},
   "encoding": {
    "x": {"field": "age", "type": "quantitative", "title": "Age", "scale": {"domain": [32.6, 103.5], "nice": false, "zero": false}, "axis": {"values": [40,50,60,70,80,90,100]}},
    "y": {"field": "score", "type": "quantitative", "title": "Perceived loneliness score", "scale": {"domain": [3.46, 26.04], "nice": false, "zero": false}, "axis": {"values": [5,10,15,20,25]}}}},
  {"data": {"name": "lonBand"}, "mark": {"type": "area", "color": "#1f77b4", "opacity": 0.15},
   "encoding": {
    "x": {"field": "age", "type": "quantitative", "title": "Age"},
    "y": {"field": "lo", "type": "quantitative", "title": "Perceived loneliness score"},
    "y2": {"field": "hi"}}},
  {"data": {"name": "lonBand"}, "mark": {"type": "line", "color": "#1f77b4", "strokeWidth": 1.6},
   "encoding": {
    "x": {"field": "age", "type": "quantitative", "title": "Age"},
    "y": {"field": "fit", "type": "quantitative", "title": "Perceived loneliness score"}}},
  {"data": {"values": [{"age": 75.1, "score": 23.25, "label": "β=-0.0557, p<0.001"}]},
   "mark": {"type": "text", "align": "left", "baseline": "middle", "fontSize": 17, "color": "#262626"},
   "encoding": {
    "x": {"field": "age", "type": "quantitative", "title": "Age"},
    "y": {"field": "score", "type": "quantitative", "title": "Perceived loneliness score"},
    "text": {"field": "label"}}}
 ]
},
{
 "width": 493, "height": 555,
 "title": "Regression perceived stress score and age",
 "layer": [
  {"data": {"name": "str"}, "mark": {"type": "circle", "color": "#1f77b4", "opacity": 0.8, "size": 24},
   "encoding": {
    "x": {"field": "age", "type": "quantitative", "title": "Age", "scale": {"domain": [32.6, 102.5], "nice": false, "zero": false}, "axis": {"values": [40,50,60,70,80,90,100]}},
    "y": {"field": "score", "type": "quantitative", "title": "Perceived stress score", "scale": {"domain": [7.96, 44.58], "nice": false, "zero": false}, "axis": {"values": [10,15,20,25,30,35,40]}}}},
  {"data": {"name": "strBand"}, "mark": {"type": "area", "color": "#1f77b4", "opacity": 0.15},
   "encoding": {
    "x": {"field": "age", "type": "quantitative", "title": "Age"},
    "y": {"field": "lo", "type": "quantitative", "title": "Perceived stress score"},
    "y2": {"field": "hi"}}},
  {"data": {"name": "strBand"}, "mark": {"type": "line", "color": "#1f77b4", "strokeWidth": 1.6},
   "encoding": {
    "x": {"field": "age", "type": "quantitative", "title": "Age"},
    "y": {"field": "fit", "type": "quantitative", "title": "Perceived stress score"}}},
  {"data": {"values": [{"age": 70.2, "score": 42.37, "label": "β=-0.0894, p<0.001"}]},
   "mark": {"type": "text", "align": "left", "baseline": "middle", "fontSize": 17, "color": "#262626"},
   "encoding": {
    "x": {"field": "age", "type": "quantitative", "title": "Age"},
    "y": {"field": "score", "type": "quantitative", "title": "Perceived stress score"},
    "text": {"field": "label"}}}
 ]
}
]
}
